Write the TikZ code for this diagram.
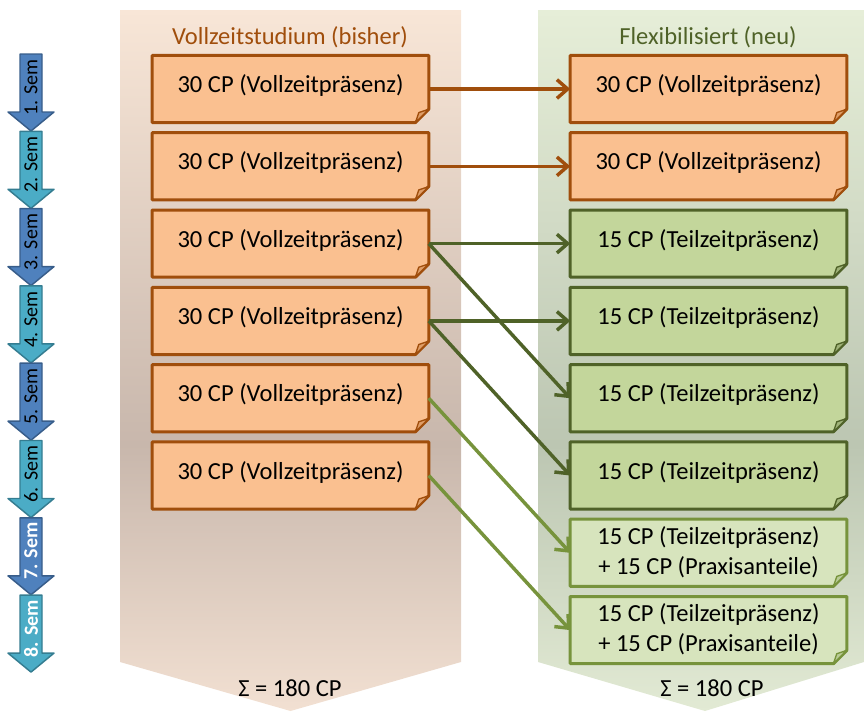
\documentclass[tikz,border=0pt]{standalone}
\usepackage{fontspec}
\setmainfont{Carlito}
\usetikzlibrary{arrows,arrows.meta}
\usetikzlibrary{backgrounds}
\definecolor{orfill}{RGB}{250,192,144}
\definecolor{ordraw}{RGB}{160,78,12}
\definecolor{grfill}{RGB}{195,214,155}
\definecolor{grdraw}{RGB}{79,98,40}
\definecolor{ltfill}{RGB}{215,228,189}
\definecolor{ltdraw}{RGB}{119,147,60}
\definecolor{semblue}{RGB}{79,129,189}
\definecolor{semblueline}{RGB}{56,93,138}
\definecolor{semteal}{RGB}{75,172,198}
\definecolor{semtealline}{RGB}{53,125,145}
\definecolor{oldtop}{RGB}{248,230,215}
\definecolor{oldmid}{RGB}{200,183,172}
\definecolor{oldlow}{RGB}{242,224,210}
\definecolor{newtop}{RGB}{230,238,216}
\definecolor{newmid}{RGB}{188,198,178}
\definecolor{newlow}{RGB}{226,234,212}
\pgfdeclareverticalshading{oldpanel}{100bp}{color(0bp)=(oldlow); color(25bp)=(oldlow);
  color(44bp)=(oldmid); color(75bp)=(oldtop); color(100bp)=(oldtop)}
\pgfdeclareverticalshading{newpanel}{100bp}{color(0bp)=(newlow); color(25bp)=(newlow);
  color(44bp)=(newmid); color(75bp)=(newtop); color(100bp)=(newtop)}

% box outline with folded corner
\newcommand{\foldbox}[3]{%
  \begin{scope}[on background layer]
    \draw[#2] (#1.north west) -- (#1.north east) -- ([yshift=10pt]#1.south east)
      -- ([xshift=-10pt]#1.south east) -- (#1.south west) -- cycle;
    \draw[#2, fill=#3, line width=1pt] ([xshift=-10pt]#1.south east)
      -- ([shift={(-7.5pt,7.5pt)}]#1.south east) -- ([yshift=10pt]#1.south east) -- cycle;
  \end{scope}}

\begin{document}
\begin{tikzpicture}[x=0.75pt, y=-0.75pt,
    cpbox/.style={minimum width=207pt, minimum height=50pt, inner sep=0pt,
        align=center, text height=16.5pt, text depth=11pt,
        font=\fontsize{18.4}{22.5}\selectfont},
    twoline/.style={text height=36.5pt, text depth=4pt},
    obox/.style={draw=ordraw, fill=orfill, line width=2.25pt, line join=round},
    gbox/.style={draw=grdraw, fill=grfill, line width=2.25pt, line join=round},
    lbox/.style={draw=ltdraw, fill=ltfill, line width=2.25pt, line join=round},
    link/.style={line width=2.6pt, -{Straight Barb[length=8pt,width=14pt]}},
    semarr/.style={line width=1.1pt, line join=round},
    semtext/.style={rotate=90, font=\fontsize{15}{17}\selectfont, inner sep=0pt},
    title/.style={font=\fontsize{18.4}{22}\selectfont}]
    \useasboundingbox (0,0) rectangle (864,711);

    \begin{scope}[on background layer]
        \shade[shading=oldpanel] (120,10) -- (461,10) -- (461,662) -- (290.5,711) -- (120,662) -- cycle;
        \shade[shading=newpanel] (538,10) -- (864,10) -- (864,662) -- (705,711) -- (538,662) -- cycle;
    \end{scope}

    \node[title, text=ordraw] (oldtitle) at (290,37) {Vollzeitstudium (bisher)};
    \node[title, text=grdraw] (newtitle) at (708,37) {Flexibilisiert (neu)};

    \node[cpbox] (l1) at (290.5,89) {30 CP (Vollzeitpräsenz)};
    \node[cpbox] (l2) at (290.5,166.3) {30 CP (Vollzeitpräsenz)};
    \node[cpbox] (l3) at (290.5,243.6) {30 CP (Vollzeitpräsenz)};
    \node[cpbox] (l4) at (290.5,320.9) {30 CP (Vollzeitpräsenz)};
    \node[cpbox] (l5) at (290.5,398.2) {30 CP (Vollzeitpräsenz)};
    \node[cpbox] (l6) at (290.5,475.5) {30 CP (Vollzeitpräsenz)};

    \node[cpbox] (r1) at (708.5,89) {30 CP (Vollzeitpräsenz)};
    \node[cpbox] (r2) at (708.5,166.3) {30 CP (Vollzeitpräsenz)};
    \node[cpbox] (r3) at (708.5,243.6) {15 CP (Teilzeitpräsenz)};
    \node[cpbox] (r4) at (708.5,320.9) {15 CP (Teilzeitpräsenz)};
    \node[cpbox] (r5) at (708.5,398.2) {15 CP (Teilzeitpräsenz)};
    \node[cpbox] (r6) at (708.5,475.5) {15 CP (Teilzeitpräsenz)};
    \node[cpbox, twoline] (r7) at (708.5,552.8) {15 CP (Teilzeitpräsenz)\\+ 15 CP (Praxisanteile)};
    \node[cpbox, twoline] (r8) at (708.5,630.1) {15 CP (Teilzeitpräsenz)\\+ 15 CP (Praxisanteile)};

    \foldbox{l1}{obox}{orfill!70!ordraw}
    \foldbox{l2}{obox}{orfill!70!ordraw}
    \foldbox{l3}{obox}{orfill!70!ordraw}
    \foldbox{l4}{obox}{orfill!70!ordraw}
    \foldbox{l5}{obox}{orfill!70!ordraw}
    \foldbox{l6}{obox}{orfill!70!ordraw}
    \foldbox{r1}{obox}{orfill!70!ordraw}
    \foldbox{r2}{obox}{orfill!70!ordraw}
    \foldbox{r3}{gbox}{grfill!70!grdraw}
    \foldbox{r4}{gbox}{grfill!70!grdraw}
    \foldbox{r5}{gbox}{grfill!70!grdraw}
    \foldbox{r6}{gbox}{grfill!70!grdraw}
    \foldbox{r7}{lbox}{ltfill!70!ltdraw}
    \foldbox{r8}{lbox}{ltfill!70!ltdraw}

    \draw[link, ordraw] (l1.east) -- (r1.west);
    \draw[link, ordraw] (l2.east) -- (r2.west);
    \draw[link, grdraw] (l3.east) -- (r3.west);
    \draw[link, grdraw] (l3.east) -- (r5.west);
    \draw[link, grdraw] (l4.east) -- (r4.west);
    \draw[link, grdraw] (l4.east) -- (r6.west);
    \draw[link, ltdraw] (l5.east) -- (r7.west);
    \draw[link, ltdraw] (l6.east) -- (r8.west);

    \node[title] (oldsum) at (290,688) {Σ = 180 CP};
    \node[title] (newsum) at (712,688) {Σ = 180 CP};

    \draw[semarr, fill=semblue, draw=semblueline] (20,54) -- ++(22,0) -- ++(0,58) -- ++(12,0) -- ++(-23,19) -- ++(-23,-19) -- ++(12,0) -- cycle;
    \node[semtext] (s1) at (31,87.5) {1. Sem};
    \draw[semarr, fill=semteal, draw=semtealline] (20,131.3) -- ++(22,0) -- ++(0,58) -- ++(12,0) -- ++(-23,19) -- ++(-23,-19) -- ++(12,0) -- cycle;
    \node[semtext] (s2) at (31,164.8) {2. Sem};
    \draw[semarr, fill=semblue, draw=semblueline] (20,208.6) -- ++(22,0) -- ++(0,58) -- ++(12,0) -- ++(-23,19) -- ++(-23,-19) -- ++(12,0) -- cycle;
    \node[semtext] (s3) at (31,242.1) {3. Sem};
    \draw[semarr, fill=semteal, draw=semtealline] (20,285.9) -- ++(22,0) -- ++(0,58) -- ++(12,0) -- ++(-23,19) -- ++(-23,-19) -- ++(12,0) -- cycle;
    \node[semtext] (s4) at (31,319.4) {4. Sem};
    \draw[semarr, fill=semblue, draw=semblueline] (20,363.2) -- ++(22,0) -- ++(0,58) -- ++(12,0) -- ++(-23,19) -- ++(-23,-19) -- ++(12,0) -- cycle;
    \node[semtext] (s5) at (31,396.7) {5. Sem};
    \draw[semarr, fill=semteal, draw=semtealline] (20,440.5) -- ++(22,0) -- ++(0,58) -- ++(12,0) -- ++(-23,19) -- ++(-23,-19) -- ++(12,0) -- cycle;
    \node[semtext] (s6) at (31,474) {6. Sem};
    \draw[semarr, fill=semblue, draw=semblueline] (20,517.8) -- ++(22,0) -- ++(0,58) -- ++(12,0) -- ++(-23,19) -- ++(-23,-19) -- ++(12,0) -- cycle;
    \node[semtext, text=white, font=\fontsize{15}{17}\selectfont\bfseries] (s7) at (31,551.3) {7. Sem};
    \draw[semarr, fill=semteal, draw=semtealline] (20,595.1) -- ++(22,0) -- ++(0,58) -- ++(12,0) -- ++(-23,19) -- ++(-23,-19) -- ++(12,0) -- cycle;
    \node[semtext, text=white, font=\fontsize{15}{17}\selectfont\bfseries] (s8) at (31,628.6) {8. Sem};
\end{tikzpicture}
\end{document}
